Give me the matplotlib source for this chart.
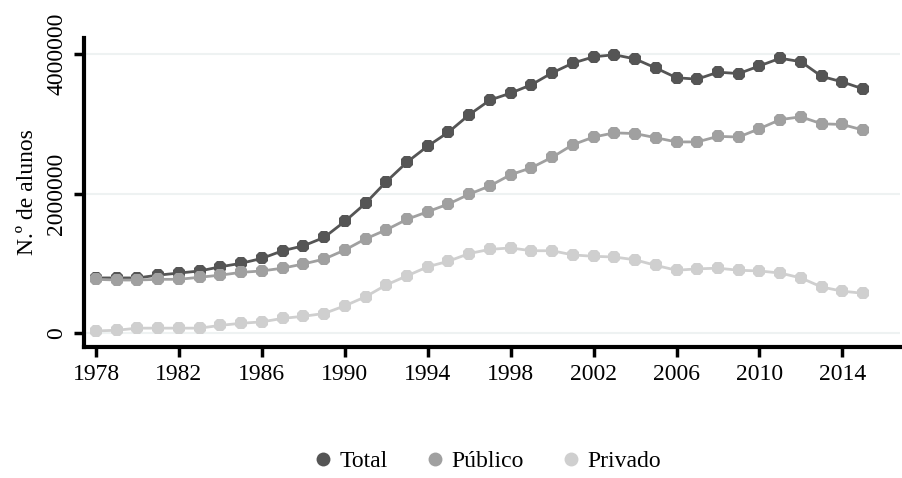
import matplotlib
matplotlib.use("Agg")
import matplotlib.pyplot as plt
from matplotlib.lines import Line2D

plt.rcParams['font.family'] = ['Liberation Serif', 'DejaVu Serif']

years = list(range(1978, 2016))

# values in millions of students
total = [0.79, 0.79, 0.79, 0.83, 0.86, 0.89, 0.95, 1.00, 1.07, 1.18,
         1.25, 1.37, 1.60, 1.86, 2.17, 2.45, 2.68, 2.88, 3.13, 3.34,
         3.44, 3.56, 3.73, 3.87, 3.96, 3.99, 3.93, 3.80, 3.66, 3.64,
         3.74, 3.72, 3.83, 3.94, 3.89, 3.68, 3.60, 3.50]
publico = [0.77, 0.76, 0.76, 0.77, 0.77, 0.80, 0.83, 0.87, 0.89, 0.93,
           0.99, 1.06, 1.19, 1.35, 1.48, 1.63, 1.74, 1.85, 1.99, 2.11,
           2.27, 2.37, 2.52, 2.70, 2.81, 2.87, 2.86, 2.80, 2.74, 2.74,
           2.82, 2.81, 2.93, 3.06, 3.10, 3.00, 2.99, 2.91]
privado = [0.03, 0.04, 0.07, 0.07, 0.07, 0.07, 0.11, 0.14, 0.16, 0.21,
           0.24, 0.28, 0.39, 0.52, 0.69, 0.82, 0.95, 1.03, 1.14, 1.20,
           1.22, 1.18, 1.18, 1.12, 1.10, 1.09, 1.05, 0.97, 0.90, 0.92,
           0.93, 0.90, 0.89, 0.86, 0.79, 0.66, 0.60, 0.57]

series = [("Total", total, '#555555'),
          ("Público", publico, '#a0a0a0'),
          ("Privado", privado, '#cfcfcf')]

x_ticks = [1978, 1982, 1986, 1990, 1994, 1998, 2002, 2006, 2010, 2014]
y_ticks = [0, 2000000, 4000000]

fig = plt.figure(figsize=(9.02, 4.78), dpi=100)
ax = fig.add_axes([0.0931, 0.2741, 0.9047, 0.6464])

for name, vals, col in series:
    ax.plot(years, [v * 1e6 for v in vals], color=col, linewidth=2,
            marker='8', markersize=10, markeredgewidth=0, label=name)

ax.set_xlim(1977.42, 2016.78)
ax.set_ylim(-200000, 4230000)
ax.set_xticks(x_ticks)
ax.set_yticks(y_ticks)
ax.set_yticklabels([str(t) for t in y_ticks], rotation=90, va='center')

for t in y_ticks:
    ax.axhline(t, color='#eef2f2', linewidth=1.5, zorder=0)

for s in ['top', 'right']:
    ax.spines[s].set_visible(False)
for s in ['left', 'bottom']:
    ax.spines[s].set_linewidth(3)
ax.tick_params(axis='both', direction='out', length=7, width=2.5,
               labelsize=17, pad=5)

ax.set_ylabel('N.º de alunos', fontsize=17, labelpad=6)

handles = [Line2D([], [], linestyle='none', marker='o', markersize=10,
                  color=col, markeredgewidth=0) for _, _, col in series]
fig.legend(handles, [n for n, _, _ in series], loc='center',
           bbox_to_anchor=(0.54, 0.035), ncol=3, frameon=False,
           fontsize=17, handlelength=0.8, handletextpad=0.3,
           columnspacing=1.6)

fig.savefig('out.png', dpi=100)
